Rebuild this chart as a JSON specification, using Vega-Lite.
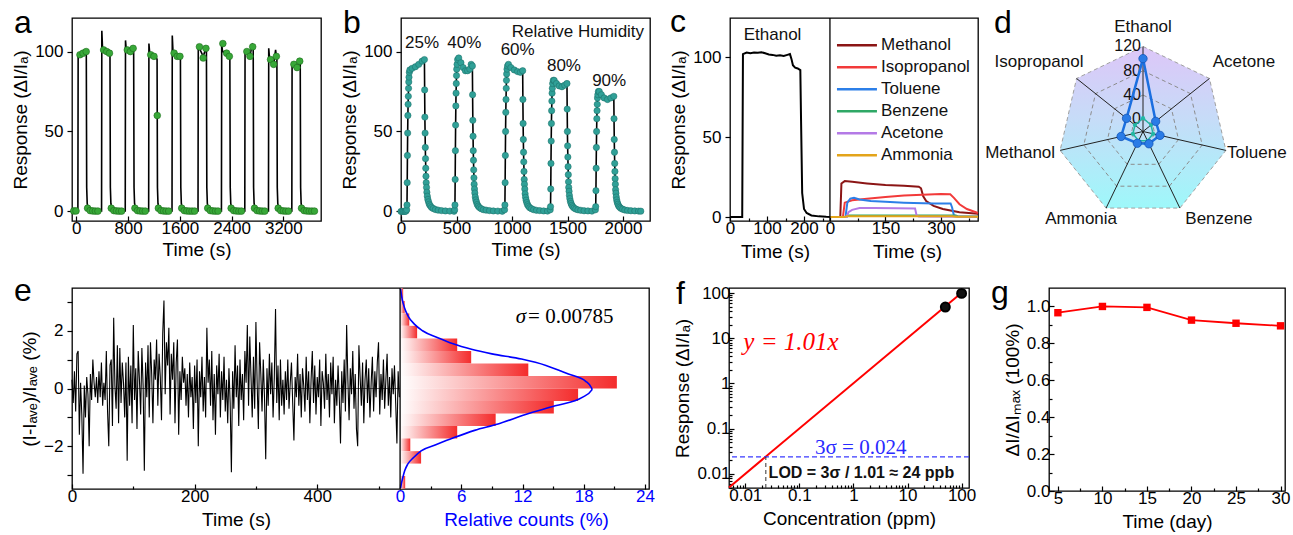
{
"$schema":"https://vega.github.io/schema/vega-lite/v6.json",
"background":"white",
"padding":{"left":10,"top":5,"right":0,"bottom":0},
"spacing":12,
"datasets":{
"aLine":[{"t":-60,"v":0.3},{"t":24,"v":0.3},{"t":28,"v":97},{"t":56,"v":98},{"t":104,"v":99},{"t":150,"v":100},{"t":154,"v":99},{"t":160,"v":15},{"t":168,"v":5},{"t":181,"v":2},{"t":206,"v":0.8},{"t":246,"v":0.3},
{"t":390,"v":0.3},{"t":394,"v":113},{"t":404,"v":103},{"t":422,"v":101},{"t":470,"v":100},{"t":512,"v":99},{"t":520,"v":98},{"t":526,"v":15},{"t":534,"v":5},{"t":547,"v":2},{"t":572,"v":0.8},{"t":612,"v":0.3},
{"t":756,"v":0.3},{"t":760,"v":107},{"t":770,"v":102},{"t":788,"v":101},{"t":836,"v":100},{"t":878,"v":102},{"t":886,"v":101},{"t":892,"v":15},{"t":900,"v":5},{"t":913,"v":2},{"t":938,"v":0.8},{"t":978,"v":0.3},
{"t":1118,"v":0.3},{"t":1122,"v":105},{"t":1132,"v":100},{"t":1150,"v":98},{"t":1200,"v":97},{"t":1240,"v":96},{"t":1248,"v":95},{"t":1254,"v":15},{"t":1262,"v":5},{"t":1275,"v":2},{"t":1300,"v":0.8},{"t":1340,"v":0.3},
{"t":1479,"v":0.3},{"t":1483,"v":110},{"t":1493,"v":101},{"t":1511,"v":99},{"t":1559,"v":97},{"t":1601,"v":97},{"t":1609,"v":96},{"t":1615,"v":15},{"t":1623,"v":5},{"t":1636,"v":2},{"t":1661,"v":0.8},{"t":1701,"v":0.3},
{"t":1881,"v":0.3},{"t":1885,"v":103},{"t":1903,"v":102},{"t":1961,"v":97},{"t":2003,"v":102},{"t":2011,"v":101},{"t":2017,"v":15},{"t":2025,"v":5},{"t":2038,"v":2},{"t":2063,"v":0.8},{"t":2103,"v":0.3},
{"t":2243,"v":0.3},{"t":2247,"v":105},{"t":2257,"v":101},{"t":2265,"v":100},{"t":2323,"v":99},{"t":2365,"v":97},{"t":2373,"v":96},{"t":2379,"v":15},{"t":2387,"v":5},{"t":2400,"v":2},{"t":2425,"v":0.8},{"t":2465,"v":0.3},
{"t":2604,"v":0.3},{"t":2608,"v":100},{"t":2636,"v":99},{"t":2684,"v":97},{"t":2720,"v":105},{"t":2734,"v":103},{"t":2740,"v":15},{"t":2748,"v":5},{"t":2761,"v":2},{"t":2786,"v":0.8},{"t":2826,"v":0.3},
{"t":2970,"v":0.3},{"t":2974,"v":102},{"t":2984,"v":97},{"t":3002,"v":95},{"t":3050,"v":92},{"t":3080,"v":101},{"t":3092,"v":97},{"t":3100,"v":96},{"t":3106,"v":15},{"t":3114,"v":5},{"t":3127,"v":2},{"t":3152,"v":0.8},{"t":3192,"v":0.3},
{"t":3331,"v":0.3},{"t":3335,"v":92},{"t":3363,"v":92},{"t":3411,"v":90},{"t":3453,"v":94},{"t":3461,"v":93},{"t":3467,"v":15},{"t":3475,"v":5},{"t":3488,"v":2},{"t":3513,"v":0.8},{"t":3553,"v":0.3},{"t":3720,"v":0.2}],
"aMarks":[{"t":-40,"v":0.3},{"t":-5,"v":0.3},{"t":56,"v":98},{"t":104,"v":99},{"t":152,"v":100},{"t":174,"v":2},{"t":214,"v":0.5},{"t":254,"v":0.3},{"t":294,"v":0.2},{"t":334,"v":0.2},
{"t":422,"v":101},{"t":470,"v":100},{"t":512,"v":99},{"t":540,"v":2},{"t":580,"v":0.5},{"t":620,"v":0.3},{"t":660,"v":0.2},{"t":700,"v":0.2},
{"t":788,"v":101},{"t":836,"v":100},{"t":878,"v":102},{"t":906,"v":2},{"t":946,"v":0.5},{"t":986,"v":0.3},{"t":1026,"v":0.2},{"t":1066,"v":0.2},
{"t":1150,"v":98},{"t":1200,"v":97},{"t":1251,"v":60},{"t":1268,"v":2},{"t":1308,"v":0.5},{"t":1348,"v":0.3},{"t":1388,"v":0.2},{"t":1428,"v":0.2},
{"t":1511,"v":99},{"t":1559,"v":97},{"t":1601,"v":97},{"t":1629,"v":2},{"t":1669,"v":0.5},{"t":1709,"v":0.3},{"t":1749,"v":0.2},{"t":1789,"v":0.2},{"t":1829,"v":0.2},
{"t":1903,"v":103},{"t":1961,"v":96},{"t":2003,"v":102},{"t":2031,"v":2},{"t":2071,"v":0.5},{"t":2111,"v":0.3},{"t":2151,"v":0.2},{"t":2191,"v":0.2},
{"t":2265,"v":105},{"t":2323,"v":99},{"t":2365,"v":97},{"t":2393,"v":2},{"t":2433,"v":0.5},{"t":2473,"v":0.3},{"t":2513,"v":0.2},{"t":2553,"v":0.2},
{"t":2636,"v":100},{"t":2684,"v":97},{"t":2726,"v":103},{"t":2754,"v":2},{"t":2794,"v":0.5},{"t":2834,"v":0.3},{"t":2874,"v":0.2},{"t":2914,"v":0.2},
{"t":3002,"v":95},{"t":3050,"v":92},{"t":3092,"v":97},{"t":3120,"v":2},{"t":3160,"v":0.5},{"t":3200,"v":0.3},{"t":3240,"v":0.2},{"t":3280,"v":0.2},
{"t":3363,"v":92},{"t":3411,"v":90},{"t":3453,"v":94},{"t":3481,"v":2},{"t":3521,"v":0.5},{"t":3561,"v":0.3},{"t":3601,"v":0.2},{"t":3641,"v":0.2},{"t":3681,"v":0.2}],
"bData":[{"t":0,"v":0},{"t":12,"v":0},{"t":24,"v":0},{"t":36,"v":0},{"t":45,"v":0.2},{"t":51,"v":1},{"t":54,"v":4},{"t":56,"v":18},{"t":58,"v":35},{"t":60,"v":49},{"t":62,"v":60},{"t":64,"v":67},{"t":66,"v":72},{"t":68,"v":77},{"t":70,"v":81},{"t":72,"v":84},{"t":75,"v":87},{"t":80,"v":88.5},{"t":100,"v":89.5},{"t":130,"v":90.5},{"t":160,"v":92},{"t":190,"v":94},{"t":211,"v":95},{"t":213,"v":76},{"t":215,"v":59},{"t":217,"v":49},{"t":219,"v":40},{"t":221,"v":33},{"t":223,"v":27},{"t":225,"v":22},{"t":227,"v":18},{"t":230,"v":15},{"t":233,"v":12},{"t":237,"v":9.5},{"t":242,"v":7.5},{"t":248,"v":6},{"t":255,"v":4.5},{"t":264,"v":3.5},{"t":275,"v":2.5},{"t":290,"v":1.8},{"t":310,"v":1.2},{"t":335,"v":0.8},{"t":365,"v":0.5},{"t":400,"v":0.3},{"t":440,"v":0.2},{"t":478,"v":0.1},
{"t":483,"v":1},{"t":486,"v":4},{"t":488,"v":20},{"t":490,"v":38},{"t":492,"v":54},{"t":494,"v":66},{"t":496,"v":74},{"t":498,"v":80},{"t":500,"v":85},{"t":502,"v":89},{"t":505,"v":92},{"t":510,"v":95},{"t":520,"v":96},{"t":540,"v":93},{"t":560,"v":90},{"t":580,"v":88},{"t":600,"v":88},{"t":620,"v":89},{"t":632,"v":92},{"t":643,"v":91},{"t":645,"v":73},{"t":647,"v":57},{"t":649,"v":47},{"t":651,"v":38},{"t":653,"v":32},{"t":655,"v":26},{"t":657,"v":21},{"t":659,"v":17},{"t":662,"v":14},{"t":665,"v":11.5},{"t":669,"v":9},{"t":674,"v":7.2},{"t":680,"v":5.8},{"t":687,"v":4.3},{"t":696,"v":3.3},{"t":707,"v":2.4},{"t":722,"v":1.7},{"t":742,"v":1.1},{"t":767,"v":0.8},{"t":797,"v":0.5},{"t":832,"v":0.3},{"t":872,"v":0.2},{"t":912,"v":0.1},
{"t":933,"v":1},{"t":936,"v":4},{"t":938,"v":18},{"t":940,"v":35},{"t":942,"v":50},{"t":944,"v":62},{"t":946,"v":70},{"t":948,"v":77},{"t":950,"v":82},{"t":952,"v":86},{"t":955,"v":89},{"t":960,"v":91},{"t":968,"v":92},{"t":990,"v":90},{"t":1020,"v":88.5},{"t":1050,"v":87.5},{"t":1075,"v":87},{"t":1096,"v":88},{"t":1098,"v":70},{"t":1100,"v":55},{"t":1102,"v":45},{"t":1104,"v":37},{"t":1106,"v":31},{"t":1108,"v":25},{"t":1110,"v":20},{"t":1112,"v":17},{"t":1115,"v":14},{"t":1118,"v":11},{"t":1122,"v":8.8},{"t":1127,"v":7},{"t":1133,"v":5.5},{"t":1140,"v":4.2},{"t":1149,"v":3.2},{"t":1160,"v":2.3},{"t":1175,"v":1.7},{"t":1195,"v":1.1},{"t":1220,"v":0.7},{"t":1250,"v":0.5},{"t":1285,"v":0.3},{"t":1320,"v":0.2},
{"t":1344,"v":1},{"t":1347,"v":3},{"t":1349,"v":14},{"t":1351,"v":30},{"t":1353,"v":44},{"t":1355,"v":55},{"t":1357,"v":63},{"t":1359,"v":69},{"t":1361,"v":74},{"t":1363,"v":77},{"t":1366,"v":80},{"t":1372,"v":82},{"t":1380,"v":82},{"t":1400,"v":80},{"t":1425,"v":78.5},{"t":1450,"v":78},{"t":1475,"v":79},{"t":1495,"v":80},{"t":1497,"v":64},{"t":1499,"v":50},{"t":1501,"v":41},{"t":1503,"v":34},{"t":1505,"v":28},{"t":1507,"v":23},{"t":1509,"v":18.5},{"t":1511,"v":15},{"t":1514,"v":12.6},{"t":1517,"v":10},{"t":1521,"v":8},{"t":1526,"v":6.3},{"t":1532,"v":5},{"t":1539,"v":3.8},{"t":1548,"v":2.9},{"t":1559,"v":2.1},{"t":1574,"v":1.5},{"t":1594,"v":1},{"t":1619,"v":0.7},{"t":1649,"v":0.4},{"t":1684,"v":0.3},{"t":1720,"v":0.2},
{"t":1751,"v":1},{"t":1754,"v":3},{"t":1756,"v":13},{"t":1758,"v":27},{"t":1760,"v":40},{"t":1762,"v":50},{"t":1764,"v":58},{"t":1766,"v":63},{"t":1768,"v":67},{"t":1770,"v":71},{"t":1773,"v":73},{"t":1778,"v":75},{"t":1786,"v":75},{"t":1805,"v":73},{"t":1830,"v":71},{"t":1860,"v":70},{"t":1890,"v":71},{"t":1917,"v":72},{"t":1919,"v":58},{"t":1921,"v":45},{"t":1923,"v":37},{"t":1925,"v":30},{"t":1927,"v":25},{"t":1929,"v":20.5},{"t":1931,"v":17},{"t":1933,"v":13.6},{"t":1936,"v":11.4},{"t":1939,"v":9},{"t":1943,"v":7.2},{"t":1948,"v":5.7},{"t":1954,"v":4.5},{"t":1961,"v":3.4},{"t":1970,"v":2.6},{"t":1981,"v":1.9},{"t":1996,"v":1.4},{"t":2016,"v":0.9},{"t":2041,"v":0.6},{"t":2071,"v":0.4},{"t":2106,"v":0.3},{"t":2140,"v":0.2},{"t":2160,"v":0.15}],
"bLabels":[{"t":190,"v":105.4,"s":"25%"},{"t":571,"v":105.4,"s":"40%"},{"t":1051,"v":101,"s":"60%"},{"t":1468,"v":91,"s":"80%"},{"t":1875,"v":81.6,"s":"90%"},{"t":1594,"v":112.3,"s":"Relative Humidity"}],
"cEth":[{"t":0,"v":0},{"t":33,"v":0},{"t":35,"v":102},{"t":45,"v":103},{"t":55,"v":102.5},{"t":65,"v":103},{"t":75,"v":102.8},{"t":85,"v":103.2},{"t":95,"v":102.5},{"t":105,"v":101.8},{"t":115,"v":101.5},{"t":125,"v":101},{"t":135,"v":101.2},{"t":145,"v":100.8},{"t":155,"v":101.5},{"t":162,"v":102},{"t":166,"v":99},{"t":170,"v":95},{"t":176,"v":93.5},{"t":183,"v":93},{"t":190,"v":92},{"t":192,"v":60},{"t":195,"v":15},{"t":200,"v":5},{"t":207,"v":2.5},{"t":220,"v":1},{"t":240,"v":0.4},{"t":260,"v":0.1},{"t":273,"v":0}],
"cGas":[
{"g":"Methanol","t":0,"v":0},{"g":"Methanol","t":28,"v":0},{"g":"Methanol","t":31,"v":21},{"g":"Methanol","t":40,"v":22.5},{"g":"Methanol","t":60,"v":22},{"g":"Methanol","t":100,"v":21},{"g":"Methanol","t":150,"v":20},{"g":"Methanol","t":200,"v":19.5},{"g":"Methanol","t":240,"v":19},{"g":"Methanol","t":246,"v":18},{"g":"Methanol","t":252,"v":13},{"g":"Methanol","t":260,"v":10},{"g":"Methanol","t":280,"v":7},{"g":"Methanol","t":305,"v":5},{"g":"Methanol","t":350,"v":3},{"g":"Methanol","t":400,"v":2},
{"g":"Isopropanol","t":0,"v":0},{"g":"Isopropanol","t":35,"v":0},{"g":"Isopropanol","t":40,"v":9},{"g":"Isopropanol","t":60,"v":10.5},{"g":"Isopropanol","t":100,"v":11.5},{"g":"Isopropanol","t":150,"v":12.5},{"g":"Isopropanol","t":200,"v":13.5},{"g":"Isopropanol","t":250,"v":14},{"g":"Isopropanol","t":300,"v":14.4},{"g":"Isopropanol","t":325,"v":14.2},{"g":"Isopropanol","t":335,"v":12},{"g":"Isopropanol","t":350,"v":8},{"g":"Isopropanol","t":370,"v":5},{"g":"Isopropanol","t":400,"v":2.5},
{"g":"Toluene","t":0,"v":0},{"g":"Toluene","t":42,"v":0},{"g":"Toluene","t":47,"v":9},{"g":"Toluene","t":55,"v":11.5},{"g":"Toluene","t":65,"v":12},{"g":"Toluene","t":80,"v":11},{"g":"Toluene","t":110,"v":10},{"g":"Toluene","t":150,"v":9.5},{"g":"Toluene","t":200,"v":9},{"g":"Toluene","t":280,"v":8.5},{"g":"Toluene","t":326,"v":8.5},{"g":"Toluene","t":330,"v":6},{"g":"Toluene","t":335,"v":1},{"g":"Toluene","t":345,"v":0.3},{"g":"Toluene","t":400,"v":0.2},
{"g":"Benzene","t":0,"v":0},{"g":"Benzene","t":45,"v":0},{"g":"Benzene","t":50,"v":0.9},{"g":"Benzene","t":150,"v":1},{"g":"Benzene","t":250,"v":1},{"g":"Benzene","t":340,"v":1},{"g":"Benzene","t":345,"v":0.5},{"g":"Benzene","t":400,"v":0.3},
{"g":"Acetone","t":0,"v":0},{"g":"Acetone","t":45,"v":0},{"g":"Acetone","t":50,"v":3},{"g":"Acetone","t":60,"v":4.5},{"g":"Acetone","t":80,"v":5.6},{"g":"Acetone","t":120,"v":5.6},{"g":"Acetone","t":180,"v":5.5},{"g":"Acetone","t":230,"v":5.3},{"g":"Acetone","t":234,"v":1},{"g":"Acetone","t":240,"v":0.3},{"g":"Acetone","t":400,"v":0.2},
{"g":"Ammonia","t":0,"v":0},{"g":"Ammonia","t":40,"v":0},{"g":"Ammonia","t":45,"v":0.4},{"g":"Ammonia","t":330,"v":0.4},{"g":"Ammonia","t":340,"v":0.1},{"g":"Ammonia","t":400,"v":0.1}],
"cLegend":[{"g":"Methanol","i":0},{"g":"Isopropanol","i":1},{"g":"Toluene","i":2},{"g":"Benzene","i":3},{"g":"Acetone","i":4},{"g":"Ammonia","i":5}],
"radar":[{"gas":"Ethanol","k":0,"blue":100,"teal":2,"rings":[0,40,80,120]},{"gas":"Acetone","k":1,"blue":6.7,"teal":-3,"rings":[0,40,80,120]},{"gas":"Toluene","k":2,"blue":8.7,"teal":-3,"rings":[0,40,80,120]},{"gas":"Benzene","k":3,"blue":2.4,"teal":-3,"rings":[0,40,80,120]},{"gas":"Ammonia","k":4,"blue":1.5,"teal":-3,"rings":[0,40,80,120]},{"gas":"Methanol","k":5,"blue":17,"teal":-3,"rings":[0,40,80,120]},{"gas":"Isopropanol","k":6,"blue":14.7,"teal":-3,"rings":[0,40,80,120]}],
"eTS":[{"t":0,"v":0.3},{"t":2,"v":-0.5},{"t":4,"v":0.6},{"t":6,"v":-0.8},{"t":8,"v":1.2},{"t":10,"v":1.3},{"t":12,"v":-1.6},{"t":14,"v":0.2},{"t":16,"v":-0.9},{"t":18,"v":-2.95},{"t":20,"v":0.1},{"t":22,"v":-1.0},{"t":24,"v":0.4},{"t":26,"v":-0.2},{"t":28,"v":-2.0},{"t":30,"v":0.5},{"t":32,"v":-0.4},{"t":34,"v":1.0},{"t":36,"v":0.2},{"t":38,"v":-0.3},{"t":40,"v":0.4},{"t":42,"v":-0.5},{"t":44,"v":0.6},{"t":46,"v":-0.3},{"t":48,"v":0.9},{"t":50,"v":-0.6},{"t":52,"v":0.2},{"t":54,"v":-0.4},{"t":56,"v":1.3},{"t":58,"v":-0.8},{"t":60,"v":-2.0},{"t":62,"v":0.8},{"t":64,"v":1.0},{"t":66,"v":-1.3},{"t":68,"v":2.45},{"t":70,"v":0.1},{"t":72,"v":-0.7},{"t":74,"v":1.5},{"t":76,"v":-1.2},{"t":78,"v":1.4},{"t":80,"v":-0.5},{"t":82,"v":0.9},{"t":84,"v":0.2},{"t":86,"v":-1.0},{"t":88,"v":0.9},{"t":90,"v":-2.5},{"t":92,"v":1.1},{"t":94,"v":-0.6},{"t":96,"v":0.8},{"t":98,"v":-1.2},{"t":100,"v":2.2},{"t":102,"v":-0.4},{"t":104,"v":0.7},{"t":106,"v":-1.4},{"t":108,"v":1.3},{"t":110,"v":0.3},{"t":112,"v":-0.9},{"t":114,"v":1.4},{"t":116,"v":0.1},{"t":118,"v":-2.85},{"t":120,"v":0.9},{"t":122,"v":-0.3},{"t":124,"v":1.5},{"t":126,"v":-1.0},{"t":128,"v":1.6},{"t":130,"v":0.5},{"t":132,"v":-1.2},{"t":134,"v":1.0},{"t":136,"v":0.3},{"t":138,"v":1.7},{"t":140,"v":-0.6},{"t":142,"v":1.2},{"t":144,"v":0.4},{"t":146,"v":-1.1},{"t":148,"v":1.9},{"t":150,"v":3.05},{"t":152,"v":-0.2},{"t":154,"v":1.6},{"t":156,"v":0.8},{"t":158,"v":2.1},{"t":160,"v":-0.9},{"t":162,"v":1.2},{"t":164,"v":0.3},{"t":166,"v":1.6},{"t":168,"v":-1.2},{"t":170,"v":0.9},{"t":172,"v":1.7},{"t":174,"v":-1.6},{"t":176,"v":0.6},{"t":178,"v":-0.4},{"t":180,"v":1.1},{"t":182,"v":0.2},{"t":184,"v":0.7},{"t":186,"v":-0.6},{"t":188,"v":0.5},{"t":190,"v":-1.0},{"t":192,"v":0.9},{"t":194,"v":-0.3},{"t":196,"v":0.4},{"t":198,"v":-1.4},{"t":200,"v":0.8},{"t":202,"v":-0.5},{"t":204,"v":1.0},{"t":206,"v":-2.0},{"t":208,"v":0.6},{"t":210,"v":-0.3},{"t":212,"v":1.1},{"t":214,"v":-0.8},{"t":216,"v":0.4},{"t":218,"v":-1.0},{"t":220,"v":2.1},{"t":222,"v":0.2},{"t":224,"v":1.0},{"t":226,"v":-0.6},{"t":228,"v":1.3},{"t":230,"v":-1.1},{"t":232,"v":0.5},{"t":234,"v":-1.6},{"t":236,"v":0.8},{"t":238,"v":-0.2},{"t":240,"v":1.2},{"t":242,"v":-1.0},{"t":244,"v":0.6},{"t":246,"v":-0.4},{"t":248,"v":1.1},{"t":250,"v":-0.8},{"t":252,"v":0.3},{"t":254,"v":-1.2},{"t":256,"v":0.7},{"t":258,"v":-0.5},{"t":260,"v":-2.9},{"t":262,"v":0.6},{"t":264,"v":-0.7},{"t":266,"v":1.5},{"t":268,"v":-0.3},{"t":270,"v":0.8},{"t":272,"v":-1.3},{"t":274,"v":1.0},{"t":276,"v":-0.4},{"t":278,"v":0.5},{"t":280,"v":-1.1},{"t":282,"v":1.3},{"t":284,"v":0.2},{"t":286,"v":2.2},{"t":288,"v":-0.6},{"t":290,"v":1.8},{"t":292,"v":0.4},{"t":294,"v":-1.0},{"t":296,"v":1.1},{"t":298,"v":-0.7},{"t":300,"v":2.3},{"t":302,"v":0.2},{"t":304,"v":-1.4},{"t":306,"v":1.6},{"t":308,"v":0.5},{"t":310,"v":-0.8},{"t":312,"v":1.0},{"t":314,"v":-0.3},{"t":316,"v":-2.45},{"t":318,"v":0.7},{"t":320,"v":-0.6},{"t":322,"v":1.2},{"t":324,"v":-0.2},{"t":326,"v":0.9},{"t":328,"v":-1.0},{"t":330,"v":0.4},{"t":332,"v":2.75},{"t":334,"v":-0.5},{"t":336,"v":0.8},{"t":338,"v":-1.1},{"t":340,"v":1.0},{"t":342,"v":-0.6},{"t":344,"v":0.3},{"t":346,"v":-0.9},{"t":348,"v":0.6},{"t":350,"v":-0.4},{"t":352,"v":1.0},{"t":354,"v":-0.7},{"t":356,"v":0.2},{"t":358,"v":0.9},{"t":360,"v":-0.5},{"t":362,"v":-1.8},{"t":364,"v":0.4},{"t":366,"v":-0.3},{"t":368,"v":1.2},{"t":370,"v":-0.6},{"t":372,"v":0.5},{"t":374,"v":-1.0},{"t":376,"v":0.7},{"t":378,"v":0.1},{"t":380,"v":-0.8},{"t":382,"v":1.1},{"t":384,"v":-0.4},{"t":386,"v":0.6},{"t":388,"v":-1.2},{"t":390,"v":0.3},{"t":392,"v":1.3},{"t":394,"v":-0.5},{"t":396,"v":0.8},{"t":398,"v":-0.9},{"t":400,"v":0.4},{"t":402,"v":-0.3},{"t":404,"v":1.0},{"t":406,"v":-1.3},{"t":408,"v":0.6},{"t":410,"v":0.2},{"t":412,"v":-0.7},{"t":414,"v":1.2},{"t":416,"v":-0.4},{"t":418,"v":0.5},{"t":420,"v":-1.0},{"t":422,"v":0.9},{"t":424,"v":-0.2},{"t":426,"v":1.1},{"t":428,"v":-1.2},{"t":430,"v":0.3},{"t":432,"v":-0.6},{"t":434,"v":0.8},{"t":436,"v":-0.3},{"t":438,"v":-1.9},{"t":440,"v":0.6},{"t":442,"v":-0.5},{"t":444,"v":1.0},{"t":446,"v":-0.8},{"t":448,"v":2.2},{"t":450,"v":0.3},{"t":452,"v":-1.1},{"t":454,"v":0.7},{"t":456,"v":-0.2},{"t":458,"v":1.3},{"t":460,"v":-0.7},{"t":462,"v":0.5},{"t":464,"v":-1.4},{"t":466,"v":-2.0},{"t":468,"v":1.5},{"t":470,"v":0.4},{"t":472,"v":-0.6},{"t":474,"v":0.9},{"t":476,"v":-1.2},{"t":478,"v":0.3},{"t":480,"v":1.0},{"t":482,"v":-0.5},{"t":484,"v":0.7},{"t":486,"v":-1.0},{"t":488,"v":0.2},{"t":490,"v":1.1},{"t":492,"v":-0.8},{"t":494,"v":0.6},{"t":496,"v":-0.3},{"t":498,"v":0.9},{"t":500,"v":1.6},{"t":502,"v":-0.9},{"t":504,"v":0.5},{"t":506,"v":-0.4},{"t":508,"v":1.0},{"t":510,"v":-0.7},{"t":512,"v":0.3},{"t":514,"v":1.2},{"t":516,"v":-0.6},{"t":518,"v":0.4},{"t":520,"v":-1.0},{"t":522,"v":0.7},{"t":524,"v":-0.2},{"t":526,"v":0.8},{"t":528,"v":-0.5},{"t":530,"v":-1.9},{"t":532,"v":0.6},{"t":534,"v":-0.3}],
"eHist":[{"lo":3.03,"hi":3.47,"p":0.3},{"lo":2.6,"hi":3.03,"p":0.45},{"lo":2.17,"hi":2.6,"p":0.9},{"lo":1.73,"hi":2.17,"p":1.67},{"lo":1.3,"hi":1.73,"p":5.6},{"lo":0.867,"hi":1.3,"p":6.97},{"lo":0.434,"hi":0.867,"p":12.57},{"lo":0,"hi":0.434,"p":21.25},{"lo":-0.434,"hi":0,"p":17.45},{"lo":-0.867,"hi":-0.434,"p":15.07},{"lo":-1.3,"hi":-0.867,"p":9.37},{"lo":-1.73,"hi":-1.3,"p":5.6},{"lo":-2.17,"hi":-1.73,"p":1.0},{"lo":-2.6,"hi":-2.17,"p":2.06},{"lo":-3.47,"hi":-3.03,"p":0.5}],
"eCurve":[{"v":3.45,"c":0.05},{"v":3.1,"c":0.2},{"v":2.8,"c":0.43},{"v":2.5,"c":0.8},{"v":2.23,"c":1.4},{"v":2.0,"c":2.2},{"v":1.76,"c":3.7},{"v":1.55,"c":5.2},{"v":1.36,"c":7.0},{"v":1.2,"c":9.0},{"v":1.02,"c":11.9},{"v":0.8,"c":14.3},{"v":0.5,"c":16.5},{"v":0.25,"c":18.2},{"v":0.0,"c":18.8},{"v":-0.05,"c":18.8},{"v":-0.3,"c":17.9},{"v":-0.6,"c":15.2},{"v":-0.9,"c":12.3},{"v":-1.23,"c":9.6},{"v":-1.45,"c":7.3},{"v":-1.7,"c":5.3},{"v":-1.95,"c":3.5},{"v":-2.16,"c":2.06},{"v":-2.4,"c":1.3},{"v":-2.62,"c":0.75},{"v":-2.85,"c":0.45},{"v":-3.08,"c":0.27},{"v":-3.3,"c":0.12},{"v":-3.45,"c":0.05}],
"gData":[{"d":5,"r":0.966},{"d":10,"r":1.0},{"d":15,"r":0.995},{"d":20,"r":0.926},{"d":25,"r":0.909},{"d":30,"r":0.895}]
},
"vconcat":[
{"hconcat":[
{
"width":249,"height":203,
"title":{"text":"a","dx":-58,"offset":-22},
"layer":[
{"data":{"name":"aLine"},"mark":{"type":"line","color":"black","strokeWidth":1.6},
"encoding":{"x":{"field":"t","type":"quantitative","scale":{"domain":[-67,3782],"nice":false,"zero":false},"axis":{"title":"Time (s)","format":"d","values":[0,400,800,1200,1600,2000,2400,2800,3200,3600],"labelExpr":"datum.value % 800 === 0 ? datum.label : ''","tickSize":{"condition":{"test":"datum.value % 800 === 0","value":-5},"value":-3}}},
"y":{"field":"v","type":"quantitative","scale":{"domain":[-6,121],"nice":false,"zero":false},"axis":{"title":"Response (ΔI/Iₐ)","values":[0,50,100]}}}},
{"data":{"name":"aMarks"},"mark":{"type":"point","filled":true,"fill":"#38a838","stroke":"#1c6d1c","strokeWidth":0.6,"size":45,"opacity":1},
"encoding":{"x":{"field":"t","type":"quantitative"},"y":{"field":"v","type":"quantitative"}}}
]},
{
"width":249,"height":203,
"title":{"text":"b","dx":-58,"offset":-22},
"layer":[
{"data":{"name":"bData"},"mark":{"type":"line","color":"black","strokeWidth":1.6,"point":{"filled":true,"fill":"#30a097","stroke":"#1b6c66","strokeWidth":0.5,"size":40,"opacity":1}},
"encoding":{"x":{"field":"t","type":"quantitative","scale":{"domain":[0,2243],"nice":false,"zero":false},"axis":{"title":"Time (s)","format":"d","values":[0,250,500,750,1000,1250,1500,1750,2000],"labelExpr":"datum.value % 500 === 0 ? datum.label : ''","tickSize":{"condition":{"test":"datum.value % 500 === 0","value":-5},"value":-3}}},
"y":{"field":"v","type":"quantitative","scale":{"domain":[-6,121],"nice":false,"zero":false},"axis":{"title":"Response (ΔI/Iₐ)","values":[0,50,100]}}}},
{"data":{"name":"bLabels"},"mark":{"type":"text","fontSize":17,"align":"center","baseline":"middle","color":"#111"},
"encoding":{"x":{"field":"t","type":"quantitative"},"y":{"field":"v","type":"quantitative"},"text":{"field":"s"}}}
]},
{
"width":248,"height":203,
"title":{"text":"c","dx":-60,"offset":-22},
"resolve":{"scale":{"x":"independent"},"axis":{"x":"independent"}},
"layer":[
{"layer":[
{"data":{"name":"cEth"},"mark":{"type":"line","color":"black","strokeWidth":2},
"encoding":{"x":{"field":"t","type":"quantitative","scale":{"domain":[0,670],"nice":false,"zero":false},"axis":{"orient":"bottom","title":"Time (s)","titleX":45,"format":"d","values":[0,50,100,150,200,250],"labelExpr":"datum.value % 100 === 0 ? datum.label : ''","tickSize":{"condition":{"test":"datum.value % 100 === 0","value":-5},"value":-3}}},
"y":{"field":"v","type":"quantitative","scale":{"domain":[-2.5,124.6],"nice":false,"zero":false},"axis":{"title":"Response (ΔI/Iₐ)","values":[0,50,100]}}}},
{"data":{"values":[{"t":115,"v":114,"s":"Ethanol"}]},"mark":{"type":"text","fontSize":17,"align":"center","baseline":"middle","color":"#111"},
"encoding":{"x":{"field":"t","type":"quantitative"},"y":{"field":"v","type":"quantitative","scale":{"domain":[-2.5,124.6],"nice":false,"zero":false},"axis":{"title":"Response (ΔI/Iₐ)","values":[0,50,100]}},"text":{"field":"s"}}}
]},
{"layer":[
{"data":{"name":"cGas"},"mark":{"type":"line","strokeWidth":2},
"encoding":{"x":{"field":"t","type":"quantitative","scale":{"domain":[-270,400],"nice":false,"zero":false},"axis":{"orient":"bottom","title":"Time (s)","titleX":177,"format":"d","values":[0,75,150,225,300,375],"labelExpr":"datum.value % 150 === 0 ? datum.label : ''","tickSize":{"condition":{"test":"datum.value % 150 === 0","value":-5},"value":-3}}},
"y":{"field":"v","type":"quantitative","scale":{"domain":[-2.5,124.6],"nice":false,"zero":false},"axis":{"title":"Response (ΔI/Iₐ)","values":[0,50,100]}},
"color":{"field":"g","type":"nominal","scale":{"domain":["Methanol","Isopropanol","Toluene","Benzene","Acetone","Ammonia"],"range":["#8b1515","#f23a3a","#2c7fe8","#2fa866","#b47ae6","#e3a41a"]},"legend":null}}},
{"data":{"values":[{"t":0}]},"mark":{"type":"rule","color":"black","strokeWidth":1.3},"encoding":{"x":{"field":"t","type":"quantitative"}}},
{"data":{"name":"cLegend"},"transform":[{"calculate":"107.6 - datum.i*13.8","as":"v"},{"calculate":"19","as":"t"},{"calculate":"127","as":"t2"}],
"mark":{"type":"rule","strokeWidth":2.5},
"encoding":{"x":{"field":"t","type":"quantitative"},"x2":{"field":"t2"},"y":{"field":"v","type":"quantitative","scale":{"domain":[-2.5,124.6],"nice":false,"zero":false},"axis":{"title":"Response (ΔI/Iₐ)","values":[0,50,100]}},"color":{"field":"g","type":"nominal","legend":null}}},
{"data":{"name":"cLegend"},"transform":[{"calculate":"107.6 - datum.i*13.8","as":"v"},{"calculate":"138","as":"t"}],
"mark":{"type":"text","fontSize":17,"align":"left","baseline":"middle","color":"#111"},
"encoding":{"x":{"field":"t","type":"quantitative"},"y":{"field":"v","type":"quantitative","scale":{"domain":[-2.5,124.6],"nice":false,"zero":false},"axis":{"title":"Response (ΔI/Iₐ)","values":[0,50,100]}},"text":{"field":"g"}}}
]}
]},
{
"width":172,"height":203,
"view":{"stroke":null},
"title":{"text":"d","dx":-64,"offset":-22},
"data":{"name":"radar"},
"transform":[{"calculate":"PI/2 - datum.k*2*PI/7","as":"ang"},{"calculate":"cos(datum.ang)","as":"vx"},{"calculate":"sin(datum.ang)","as":"vy"},{"calculate":"0","as":"z"},{"calculate":"(datum.blue+20)/140*cos(datum.ang)","as":"bx"},{"calculate":"(datum.blue+20)/140*sin(datum.ang)","as":"by"},{"calculate":"(datum.teal+20)/140*cos(datum.ang)","as":"tx"},{"calculate":"(datum.teal+20)/140*sin(datum.ang)","as":"ty"}],
"layer":[
{"transform":[{"flatten":["rings"],"as":["ring"]},{"filter":"datum.ring === 120"},{"calculate":"(datum.ring+20)/140*datum.vx","as":"gx"},{"calculate":"(datum.ring+20)/140*datum.vy","as":"gy"}],
"mark":{"type":"line","interpolate":"linear-closed","fill":{"gradient":"linear","x1":0,"y1":0,"x2":0,"y2":1,"stops":[{"offset":0,"color":"#ddc6f8"},{"offset":0.45,"color":"#c6dcf8"},{"offset":1,"color":"#9ef8fa"}]},"stroke":"#a0a0a0","strokeDash":[4,3],"strokeWidth":1},
"encoding":{"x":{"field":"gx","type":"quantitative","scale":{"domain":[-1,1.0235],"nice":false,"zero":false},"axis":null},"y":{"field":"gy","type":"quantitative","scale":{"domain":[-1.053,1.335],"nice":false,"zero":false},"axis":null},"order":{"field":"k"}}},
{"transform":[{"flatten":["rings"],"as":["ring"]},{"filter":"datum.ring < 120"},{"calculate":"(datum.ring+20)/140*datum.vx","as":"gx"},{"calculate":"(datum.ring+20)/140*datum.vy","as":"gy"}],
"mark":{"type":"line","interpolate":"linear-closed","stroke":"#8c8c8c","strokeDash":[4,3],"strokeWidth":1},
"encoding":{"x":{"field":"gx","type":"quantitative","scale":{"domain":[-1,1.0235],"nice":false,"zero":false},"axis":null},"y":{"field":"gy","type":"quantitative","scale":{"domain":[-1.053,1.335],"nice":false,"zero":false},"axis":null},"detail":{"field":"ring"},"order":{"field":"k"}}},
{"mark":{"type":"rule","color":"#222","strokeWidth":1},
"encoding":{"x":{"field":"z","type":"quantitative","scale":{"domain":[-1,1.0235],"nice":false,"zero":false},"axis":null},"y":{"field":"z","type":"quantitative","scale":{"domain":[-1.053,1.335],"nice":false,"zero":false},"axis":null},"x2":{"field":"vx"},"y2":{"field":"vy"}}},
{"transform":[{"filter":"datum.k === 0"},{"flatten":["rings"],"as":["ring"]},{"calculate":"(datum.ring+20)/140","as":"gy"}],
"mark":{"type":"text","align":"right","baseline":"middle","dx":-2,"fontSize":16,"color":"#111"},
"encoding":{"x":{"field":"z","type":"quantitative","scale":{"domain":[-1,1.0235],"nice":false,"zero":false},"axis":null},"y":{"field":"gy","type":"quantitative","scale":{"domain":[-1.053,1.335],"nice":false,"zero":false},"axis":null},"text":{"field":"ring"}}},
{"mark":{"type":"line","interpolate":"linear-closed","stroke":"#20b4a2","strokeWidth":1.5},
"encoding":{"x":{"field":"tx","type":"quantitative","scale":{"domain":[-1,1.0235],"nice":false,"zero":false},"axis":null},"y":{"field":"ty","type":"quantitative","scale":{"domain":[-1.053,1.335],"nice":false,"zero":false},"axis":null},"order":{"field":"k"}}},
{"mark":{"type":"point","filled":true,"fill":"#22b8a4","size":18,"opacity":1},
"encoding":{"x":{"field":"tx","type":"quantitative","scale":{"domain":[-1,1.0235],"nice":false,"zero":false},"axis":null},"y":{"field":"ty","type":"quantitative","scale":{"domain":[-1.053,1.335],"nice":false,"zero":false},"axis":null}}},
{"mark":{"type":"line","interpolate":"linear-closed","stroke":"#1b6fe0","strokeWidth":2.5},
"encoding":{"x":{"field":"bx","type":"quantitative","scale":{"domain":[-1,1.0235],"nice":false,"zero":false},"axis":null},"y":{"field":"by","type":"quantitative","scale":{"domain":[-1.053,1.335],"nice":false,"zero":false},"axis":null},"order":{"field":"k"}}},
{"mark":{"type":"point","filled":true,"fill":"#2a7be6","stroke":"#1456b8","strokeWidth":0.8,"size":70,"opacity":1},
"encoding":{"x":{"field":"bx","type":"quantitative","scale":{"domain":[-1,1.0235],"nice":false,"zero":false},"axis":null},"y":{"field":"by","type":"quantitative","scale":{"domain":[-1.053,1.335],"nice":false,"zero":false},"axis":null}}},
{"transform":[{"filter":"datum.gas === 'Ethanol'"}],"mark":{"type":"text","fontSize":17,"align":"center","baseline":"middle","dx":0,"dy":-19.5,"color":"#111"},"encoding":{"x":{"field":"vx","type":"quantitative","axis":null},"y":{"field":"vy","type":"quantitative","axis":null},"text":{"field":"gas"}}},
{"transform":[{"filter":"datum.gas === 'Acetone'"}],"mark":{"type":"text","fontSize":17,"align":"center","baseline":"middle","dx":34.5,"dy":-16.5,"color":"#111"},"encoding":{"x":{"field":"vx","type":"quantitative","axis":null},"y":{"field":"vy","type":"quantitative","axis":null},"text":{"field":"gas"}}},
{"transform":[{"filter":"datum.gas === 'Toluene'"}],"mark":{"type":"text","fontSize":17,"align":"center","baseline":"middle","dx":31,"dy":2.6,"color":"#111"},"encoding":{"x":{"field":"vx","type":"quantitative","axis":null},"y":{"field":"vy","type":"quantitative","axis":null},"text":{"field":"gas"}}},
{"transform":[{"filter":"datum.gas === 'Benzene'"}],"mark":{"type":"text","fontSize":17,"align":"center","baseline":"middle","dx":39,"dy":11,"color":"#111"},"encoding":{"x":{"field":"vx","type":"quantitative","axis":null},"y":{"field":"vy","type":"quantitative","axis":null},"text":{"field":"gas"}}},
{"transform":[{"filter":"datum.gas === 'Ammonia'"}],"mark":{"type":"text","fontSize":17,"align":"center","baseline":"middle","dx":-25,"dy":11,"color":"#111"},"encoding":{"x":{"field":"vx","type":"quantitative","axis":null},"y":{"field":"vy","type":"quantitative","axis":null},"text":{"field":"gas"}}},
{"transform":[{"filter":"datum.gas === 'Methanol'"}],"mark":{"type":"text","fontSize":17,"align":"center","baseline":"middle","dx":-40,"dy":2.6,"color":"#111"},"encoding":{"x":{"field":"vx","type":"quantitative","axis":null},"y":{"field":"vy","type":"quantitative","axis":null},"text":{"field":"gas"}}},
{"transform":[{"filter":"datum.gas === 'Isopropanol'"}],"mark":{"type":"text","fontSize":17,"align":"center","baseline":"middle","dx":-37.5,"dy":-16.5,"color":"#111"},"encoding":{"x":{"field":"vx","type":"quantitative","axis":null},"y":{"field":"vy","type":"quantitative","axis":null},"text":{"field":"gas"}}}
]}
],"bounds":"flush","spacing":80},
{"hconcat":[
{
"width":577,"height":201,
"title":{"text":"e","dx":-58,"offset":-22},
"resolve":{"scale":{"x":"independent"},"axis":{"x":"independent"}},
"layer":[
{"layer":[
{"data":{"values":[{"t":0,"t2":535,"v":0}]},"mark":{"type":"rule","color":"#444","strokeWidth":0.8},
"encoding":{"x":{"field":"t","type":"quantitative","scale":{"domain":[0,941.2],"nice":false,"zero":false}},"x2":{"field":"t2"},"y":{"field":"v","type":"quantitative","scale":{"domain":[-3.48,3.48],"nice":false,"zero":false},"axis":{"title":"(I-Iₐᵥₑ)/Iₐᵥₑ (%)","format":"d","values":[-3,-2,-1,0,1,2,3],"labelExpr":"datum.value % 2 === 0 ? datum.label : ''"}}}},
{"data":{"name":"eTS"},"mark":{"type":"line","color":"black","strokeWidth":1.1},
"encoding":{"x":{"field":"t","type":"quantitative","scale":{"domain":[0,941.2],"nice":false,"zero":false},"axis":{"orient":"bottom","title":"Time (s)","titleX":164,"format":"d","values":[0,100,200,300,400,500],"labelExpr":"datum.value % 200 === 0 ? datum.label : ''","tickSize":{"condition":{"test":"datum.value % 200 === 0","value":-5},"value":-3}}},
"y":{"field":"v","type":"quantitative","scale":{"domain":[-3.48,3.48],"nice":false,"zero":false},"axis":{"title":"(I-Iₐᵥₑ)/Iₐᵥₑ (%)","format":"d","values":[-3,-2,-1,0,1,2,3],"labelExpr":"datum.value % 2 === 0 ? datum.label : ''"}}}}
]},
{"layer":[
{"data":{"name":"eHist"},"mark":{"type":"rect","fill":{"gradient":"linear","x1":0,"y1":0,"x2":1,"y2":0,"stops":[{"offset":0,"color":"#ffffff"},{"offset":1,"color":"#f42c2c"}]}},
"encoding":{"x":{"field":"p","type":"quantitative","scale":{"domain":[-32.16,24.4],"nice":false,"zero":false},"axis":{"orient":"bottom","title":"Relative counts (%)","titleX":454,"titleColor":"#0000ff","labelColor":"#0000ff","format":"d","values":[0,3,6,9,12,15,18,21,24],"labelExpr":"datum.value % 6 === 0 ? datum.label : ''","tickSize":{"condition":{"test":"datum.value % 6 === 0","value":-5},"value":-3}}},"x2":{"datum":0},
"y":{"field":"lo","type":"quantitative","scale":{"domain":[-3.48,3.48],"nice":false,"zero":false},"axis":{"title":"(I-Iₐᵥₑ)/Iₐᵥₑ (%)","format":"d","values":[-3,-2,-1,0,1,2,3],"labelExpr":"datum.value % 2 === 0 ? datum.label : ''"}},"y2":{"field":"hi"}}},
{"data":{"name":"eCurve"},"mark":{"type":"line","color":"#0000ff","strokeWidth":1.6,"interpolate":"monotone"},
"encoding":{"x":{"field":"c","type":"quantitative"},"y":{"field":"v","type":"quantitative","scale":{"domain":[-3.48,3.48],"nice":false,"zero":false},"axis":{"title":"(I-Iₐᵥₑ)/Iₐᵥₑ (%)","format":"d","values":[-3,-2,-1,0,1,2,3],"labelExpr":"datum.value % 2 === 0 ? datum.label : ''"}},"order":{"field":"v"}}},
{"data":{"values":[{"p":0}]},"mark":{"type":"rule","color":"black","strokeWidth":1.3},"encoding":{"x":{"field":"p","type":"quantitative"}}},
{"data":{"values":[{"p":11.35,"v":2.46,"s":"σ"}]},"mark":{"type":"text","font":"Liberation Serif","fontStyle":"italic","fontSize":21,"align":"left","baseline":"middle","color":"black"},
"encoding":{"x":{"field":"p","type":"quantitative"},"y":{"field":"v","type":"quantitative","scale":{"domain":[-3.48,3.48],"nice":false,"zero":false},"axis":{"title":"(I-Iₐᵥₑ)/Iₐᵥₑ (%)","format":"d","values":[-3,-2,-1,0,1,2,3],"labelExpr":"datum.value % 2 === 0 ? datum.label : ''"}},"text":{"field":"s"}}},
{"data":{"values":[{"p":12.55,"v":2.46,"s":"= 0.00785"}]},"mark":{"type":"text","font":"Liberation Serif","fontSize":21,"align":"left","baseline":"middle","color":"black"},
"encoding":{"x":{"field":"p","type":"quantitative"},"y":{"field":"v","type":"quantitative","scale":{"domain":[-3.48,3.48],"nice":false,"zero":false},"axis":{"title":"(I-Iₐᵥₑ)/Iₐᵥₑ (%)","format":"d","values":[-3,-2,-1,0,1,2,3],"labelExpr":"datum.value % 2 === 0 ? datum.label : ''"}},"text":{"field":"s"}}}
]}
]},
{
"width":240,"height":200,
"title":{"text":"f","dx":-53,"offset":-27},
"layer":[
{"data":{"values":[{"c":0.005,"r":0.00505},{"c":100,"r":101}]},"mark":{"type":"line","color":"#ff0000","strokeWidth":2},
"encoding":{"x":{"field":"c","type":"quantitative","scale":{"type":"log","domain":[0.005,137],"nice":false},"axis":{"title":"Concentration (ppm)","format":"~g","values":[0.006,0.007,0.008,0.009,0.01,0.02,0.03,0.04,0.05,0.06,0.07,0.08,0.09,0.1,0.2,0.3,0.4,0.5,0.6,0.7,0.8,0.9,1,2,3,4,5,6,7,8,9,10,20,30,40,50,60,70,80,90,100],"labelExpr":"indexof([0.01,0.1,1,10,100], datum.value) >= 0 ? datum.label : ''","tickSize":{"condition":{"test":"indexof([0.01,0.1,1,10,100], datum.value) >= 0","value":-5},"value":-3}}},
"y":{"field":"r","type":"quantitative","scale":{"type":"log","domain":[0.0049,129],"nice":false},"axis":{"title":"Response (ΔI/Iₐ)","format":"~g","values":[0.005,0.006,0.007,0.008,0.009,0.01,0.02,0.03,0.04,0.05,0.06,0.07,0.08,0.09,0.1,0.2,0.3,0.4,0.5,0.6,0.7,0.8,0.9,1,2,3,4,5,6,7,8,9,10,20,30,40,50,60,70,80,90,100],"labelExpr":"indexof([0.01,0.1,1,10,100], datum.value) >= 0 ? datum.label : ''","tickSize":{"condition":{"test":"indexof([0.01,0.1,1,10,100], datum.value) >= 0","value":-5},"value":-3}}}}},
{"data":{"values":[{"r":0.024}]},"mark":{"type":"rule","color":"#3a3aff","strokeWidth":1.2,"strokeDash":[5,3]},"encoding":{"y":{"field":"r","type":"quantitative"}}},
{"data":{"values":[{"c":0.024,"r0":0.0049,"r":0.024}]},"mark":{"type":"rule","color":"#333","strokeWidth":1,"strokeDash":[4,3]},"encoding":{"x":{"field":"c","type":"quantitative"},"y":{"field":"r0","type":"quantitative"},"y2":{"field":"r"}}},
{"data":{"values":[{"c":50,"r":49},{"c":100,"r":98}]},"mark":{"type":"point","filled":true,"fill":"#111","stroke":"#000","size":80,"opacity":1},"encoding":{"x":{"field":"c","type":"quantitative"},"y":{"field":"r","type":"quantitative"}}},
{"data":{"values":[{"c":0.07,"r":8.4,"s":"y = 1.01x"}]},"mark":{"type":"text","font":"Liberation Serif","fontStyle":"italic","fontSize":25,"color":"#ff0000","align":"center","baseline":"middle"},"encoding":{"x":{"field":"c","type":"quantitative"},"y":{"field":"r","type":"quantitative"},"text":{"field":"s"}}},
{"data":{"values":[{"c":1.36,"r":0.0375,"s":"3σ = 0.024"}]},"mark":{"type":"text","font":"Liberation Serif","fontSize":21,"color":"#2a2aff","align":"center","baseline":"middle"},"encoding":{"x":{"field":"c","type":"quantitative"},"y":{"field":"r","type":"quantitative"},"text":{"field":"s"}}},
{"data":{"values":[{"c":0.027,"r":0.01067,"s":"LOD = 3σ / 1.01 ≈ 24 ppb"}]},"mark":{"type":"text","fontSize":16,"fontWeight":"bold","color":"#111","align":"left","baseline":"middle"},"encoding":{"x":{"field":"c","type":"quantitative"},"y":{"field":"r","type":"quantitative"},"text":{"field":"s"}}}
]},
{
"width":236,"height":203,
"title":{"text":"g","dx":-58,"offset":-22},
"data":{"name":"gData"},
"mark":{"type":"line","color":"#ff0000","strokeWidth":1.8,"point":{"shape":"square","filled":true,"color":"#ff0000","size":55}},
"encoding":{"x":{"field":"d","type":"quantitative","scale":{"domain":[4.0,30.5],"nice":false,"zero":false},"axis":{"title":"Time (day)","values":[5,7.5,10,12.5,15,17.5,20,22.5,25,27.5,30],"labelExpr":"datum.value % 5 === 0 ? format(datum.value, 'd') : ''","tickSize":{"condition":{"test":"datum.value % 5 === 0","value":-5},"value":-3}}},
"y":{"field":"r","type":"quantitative","scale":{"domain":[0,1.1],"nice":false,"zero":false},"axis":{"title":"ΔI/ΔIₘₐₓ (100%)","format":".1f","values":[0,0.1,0.2,0.3,0.4,0.5,0.6,0.7,0.8,0.9,1.0],"labelExpr":"round(datum.value*10) % 2 === 0 ? format(datum.value, '.1f') : ''","tickSize":{"condition":{"test":"round(datum.value*10) % 2 === 0","value":-5},"value":-3}}}}
}
],"bounds":"flush","spacing":80}
],
"config":{
"font":"Liberation Sans",
"view":{"stroke":"black","strokeWidth":1.3},
"axis":{"domain":false,"grid":false,"labelFontSize":17,"titleFontSize":19,"titleFontWeight":"normal","labelColor":"black","titleColor":"black","tickColor":"black","tickWidth":1.2,"labelPadding":4,"titlePadding":4,"labelFont":"Liberation Sans","titleFont":"Liberation Sans","labelOverlap":false,"labelFlush":false},
"title":{"fontSize":32,"fontWeight":"normal","anchor":"start","frame":"group","baseline":"alphabetic","offset":0,"font":"Liberation Sans","color":"black"},
"text":{"font":"Liberation Sans"}
}
}
